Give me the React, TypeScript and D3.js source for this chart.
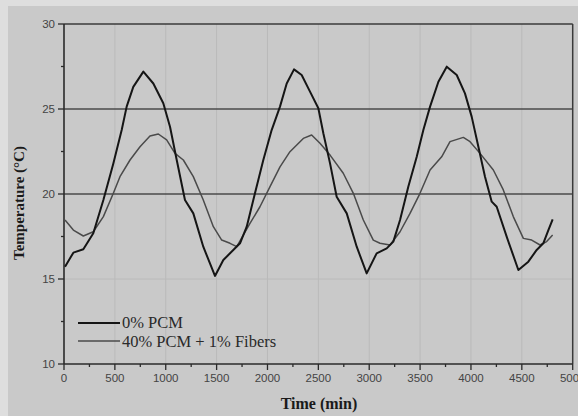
import React from "react";
import * as d3 from "d3";

const W = 578;
const H = 416;

// 0% PCM
const time0 = [10, 92, 190, 288, 387, 485, 567, 616, 681, 780, 878, 976, 1042, 1108, 1189, 1271, 1369, 1484, 1566, 1632, 1730, 1796, 1877, 1959, 2041, 2123, 2189, 2261, 2336, 2418, 2500, 2549, 2615, 2680, 2779, 2877, 2975, 3073, 3172, 3237, 3303, 3384, 3467, 3532, 3598, 3680, 3762, 3860, 3941, 4007, 4073, 4138, 4204, 4253, 4351, 4466, 4564, 4646, 4711, 4761, 4803];
const temp0 = [15.72, 16.55, 16.75, 17.69, 19.65, 21.8, 23.76, 25.14, 26.3, 27.2, 26.5, 25.34, 23.96, 22.0, 19.65, 18.86, 16.9, 15.18, 16.12, 16.51, 17.1, 18.08, 20.04, 22.0, 23.76, 25.14, 26.5, 27.33, 27.0, 26.02, 25.04, 23.57, 21.8, 19.84, 18.86, 16.9, 15.33, 16.51, 16.8, 17.2, 18.47, 20.43, 22.19, 23.76, 25.14, 26.6, 27.49, 27.0, 25.92, 24.55, 22.78, 21.02, 19.55, 19.25, 17.49, 15.53, 16.02, 16.71, 17.1, 17.88, 18.51];

// 40% PCM + 1% Fibers
const time1 = [10, 92, 190, 288, 387, 485, 550, 649, 747, 845, 927, 1009, 1091, 1173, 1271, 1369, 1468, 1550, 1632, 1698, 1828, 1926, 2025, 2123, 2221, 2352, 2434, 2516, 2615, 2745, 2844, 2942, 3040, 3106, 3204, 3303, 3401, 3499, 3598, 3712, 3794, 3925, 3991, 4089, 4220, 4318, 4416, 4515, 4597, 4679, 4744, 4803];
const temp1 = [18.47, 17.88, 17.53, 17.78, 18.67, 20.04, 21.02, 22.0, 22.78, 23.41, 23.53, 23.18, 22.39, 22.0, 21.02, 19.65, 18.08, 17.29, 17.1, 16.9, 18.27, 19.25, 20.43, 21.6, 22.49, 23.27, 23.47, 22.98, 22.29, 21.22, 20.04, 18.47, 17.29, 17.1, 17.0, 17.78, 18.86, 20.04, 21.41, 22.19, 23.08, 23.33, 23.08, 22.39, 21.41, 20.24, 18.67, 17.39, 17.29, 17.0, 17.2, 17.59];

const xTicks = [0, 500, 1000, 1500, 2000, 2500, 3000, 3500, 4000, 4500, 5000];
const yTicks = [10, 15, 20, 25, 30];
const refLines = [20, 25];
const seriesNames = ["0% PCM", "40% PCM + 1% Fibers"];

export default function App() {
  const left = 64, right = 572.7, top = 24, bottom = 364;
  const x = d3.scaleLinear().domain([0, 5000]).range([left, right]);
  const y = d3.scaleLinear().domain([10, 30]).range([bottom, top]);
  const line = d3.line<[number, number]>().x(d => x(d[0])).y(d => y(d[1]));
  const d0 = line(time0.map((t, i) => [t, temp0[i]] as [number, number])) || "";
  const d1 = line(time1.map((t, i) => [t, temp1[i]] as [number, number])) || "";
  const xMinor = d3.range(250, 5000, 500);
  const yMinor = d3.range(12.5, 30, 5);
  const sans = "'Liberation Sans', Arial, sans-serif";
  const serif = "'Liberation Serif', 'Times New Roman', serif";

  return (
    <svg width={W} height={H} style={{ position: "fixed", left: 0, top: 0 }}>
      <rect x={0} y={0} width={W} height={H} fill="#dedede" />
      <rect x={8} y={6} width={W - 8} height={H - 6} fill="#c9c9c9" />
      {/* faint vertical grid */}
      {xTicks.slice(1, -1).map(t => (
        <line key={"gv" + t} x1={x(t)} x2={x(t)} y1={top} y2={bottom} stroke="#bababa" strokeWidth={1} />
      ))}
      <line x1={left} x2={right} y1={y(15)} y2={y(15)} stroke="#bababa" strokeWidth={1} />
      {/* reference lines */}
      {refLines.map(v => (
        <line key={"r" + v} x1={left} x2={right} y1={y(v)} y2={y(v)} stroke="#4a4a4a" strokeWidth={1.6} />
      ))}
      {/* frame */}
      <line x1={left} x2={right} y1={top} y2={top} stroke="#3a3a3a" strokeWidth={1.5} />
      <line x1={right} x2={right} y1={top} y2={bottom} stroke="#3a3a3a" strokeWidth={1.5} />
      <line x1={left} x2={left} y1={top} y2={bottom} stroke="#2a2a2a" strokeWidth={1.6} />
      <line x1={left} x2={right} y1={bottom} y2={bottom} stroke="#2a2a2a" strokeWidth={1.6} />
      {/* y ticks */}
      {yTicks.map(v => (
        <g key={"yt" + v}>
          <line x1={left - 6} x2={left} y1={y(v)} y2={y(v)} stroke="#2a2a2a" strokeWidth={1.3} />
          <text x={left - 9} y={y(v) + 4} textAnchor="end" fontFamily={sans} fontSize={11.5} fill="#444">{v}</text>
        </g>
      ))}
      {yMinor.map(v => (
        <line key={"ym" + v} x1={left - 3} x2={left} y1={y(v)} y2={y(v)} stroke="#2a2a2a" strokeWidth={1.3} />
      ))}
      {/* x ticks */}
      {xTicks.map(v => (
        <g key={"xt" + v}>
          <line x1={x(v)} x2={x(v)} y1={bottom} y2={bottom + 6} stroke="#2a2a2a" strokeWidth={1.3} />
          <text x={x(v)} y={bottom + 18} textAnchor="middle" fontFamily={sans} fontSize={11.5} fill="#444">{v}</text>
        </g>
      ))}
      {xMinor.map(v => (
        <line key={"xm" + v} x1={x(v)} x2={x(v)} y1={bottom} y2={bottom + 3} stroke="#2a2a2a" strokeWidth={1.3} />
      ))}
      {/* series */}
      <path d={d1} fill="none" stroke="#4a4a4a" strokeWidth={1.5} strokeLinejoin="round" />
      <path d={d0} fill="none" stroke="#151515" strokeWidth={2} strokeLinejoin="round" />
      {/* legend */}
      <line x1={78} x2={120} y1={323} y2={323} stroke="#151515" strokeWidth={2} />
      <text x={122} y={328} fontFamily={serif} fontSize={16.5} fill="#2a2a2a">{seriesNames[0]}</text>
      <line x1={78} x2={120} y1={341} y2={341} stroke="#4a4a4a" strokeWidth={1.6} />
      <text x={122} y={346.5} fontFamily={serif} fontSize={16.5} fill="#2a2a2a">{seriesNames[1]}</text>
      {/* axis titles */}
      <text x={319} y={409} textAnchor="middle" fontFamily={serif} fontWeight="bold" fontSize={16} fill="#1a1a1a">Time (min)</text>
      <text transform={`translate(24, 203) rotate(-90)`} textAnchor="middle" fontFamily={serif} fontWeight="bold" fontSize={15} fill="#1a1a1a">Temperature (°C)</text>
    </svg>
  );
}
